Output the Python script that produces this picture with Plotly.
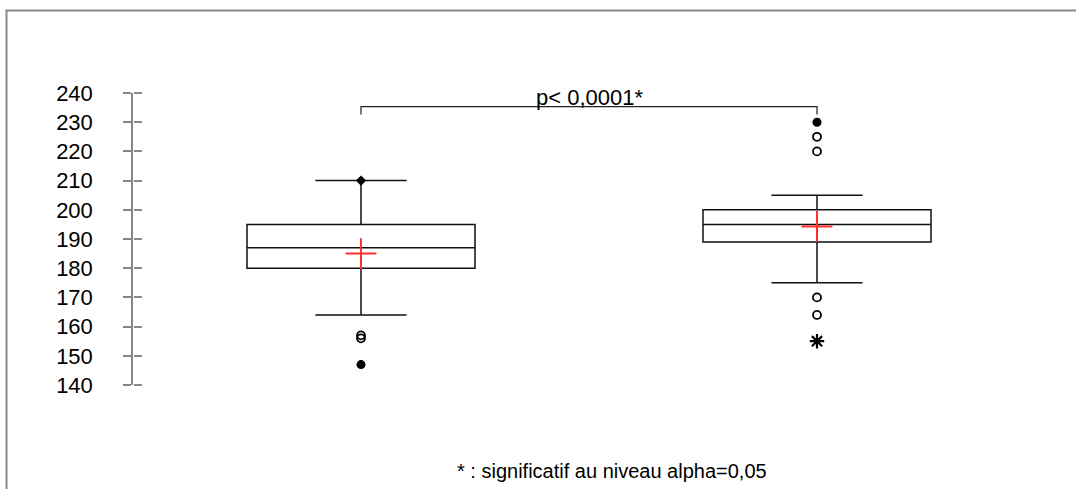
import plotly.graph_objects as go

# ---- data ----
groups_x = [1, 2]
q1 = [180, 189]
median = [187, 195]
q3 = [195, 200]
lower_whisker = [164, 175]
upper_whisker = [210, 205]
means = [185, 194.3]

outlier_open_x = [1, 1, 2, 2, 2, 2]
outlier_open_y = [156, 157, 225, 220, 170, 164]
extreme_filled_x = [1, 2]
extreme_filled_y = [147, 230]
max_diamond_x = [1]
max_diamond_y = [210]
min_star_x = [2]
min_star_y = [155]

bracket_x = [1, 1, 2, 2]
bracket_y = [232.6, 235.3, 235.3, 232.6]
p_text = "p< 0,0001*"
footnote = "* : significatif au niveau alpha=0,05"

y_ticks = [140, 150, 160, 170, 180, 190, 200, 210, 220, 230, 240]

FONT = "Liberation Sans, Arial, sans-serif"
GRAY = "#888888"

fig = go.Figure()

fig.add_trace(go.Box(
    x=groups_x, q1=q1, median=median, q3=q3,
    lowerfence=lower_whisker, upperfence=upper_whisker,
    width=0.5, whiskerwidth=0.4, boxpoints=False,
    fillcolor="white", line=dict(color="#111111", width=1.5),
    hoverinfo="skip",
))

fig.add_trace(go.Scatter(
    x=groups_x, y=means, mode="markers",
    marker=dict(symbol="cross-thin-open", size=22, color="#ff3030",
                line=dict(color="#ff3030", width=2)),
))

fig.add_trace(go.Scatter(
    x=outlier_open_x, y=outlier_open_y, mode="markers",
    marker=dict(symbol="circle-open", size=8, color="black",
                line=dict(color="black", width=1.8)),
))
fig.add_trace(go.Scatter(
    x=extreme_filled_x, y=extreme_filled_y, mode="markers",
    marker=dict(symbol="circle", size=9, color="black"),
))
fig.add_trace(go.Scatter(
    x=max_diamond_x, y=max_diamond_y, mode="markers",
    marker=dict(symbol="diamond", size=8, color="black"),
))
fig.add_trace(go.Scatter(
    x=min_star_x, y=min_star_y, mode="markers",
    marker=dict(symbol="asterisk-open", size=12, color="black",
                line=dict(color="black", width=2.2)),
))
fig.add_trace(go.Scatter(
    x=bracket_x, y=bracket_y, mode="lines",
    line=dict(color="#222222", width=1.2),
))

# secondary y axis (right-side style placed at the left edge) draws the
# right half of the crossing tick marks
fig.add_trace(go.Scatter(
    x=groups_x, y=means, yaxis="y2", mode="markers",
    marker=dict(opacity=0), hoverinfo="skip", showlegend=False,
))

fig.add_annotation(
    x=1.5, y=238.3, xref="x", yref="y", text=p_text, showarrow=False,
    yanchor="middle", font=dict(family=FONT, size=22, color="black"),
)
fig.add_annotation(
    x=0.525, y=-0.295, xref="paper", yref="paper", text=footnote,
    showarrow=False, yanchor="middle",
    font=dict(family=FONT, size=20, color="black"),
)

fig.add_shape(
    type="rect", xref="paper", yref="paper",
    x0=-0.1387, x1=1.2, y0=-0.6, y1=1.2825,
    line=dict(color=GRAY, width=2), fillcolor="rgba(0,0,0,0)", layer="below",
)

fig.update_layout(
    width=1076, height=489,
    margin=dict(l=133, r=31, t=93, b=104, pad=0),
    paper_bgcolor="white", plot_bgcolor="white",
    showlegend=False,
    xaxis=dict(range=[0.5, 2.5], visible=False, fixedrange=True),
    yaxis=dict(
        range=[140, 240], tickvals=y_ticks, showgrid=False, zeroline=False,
        showline=True, linecolor=GRAY, linewidth=1.5,
        ticks="outside", ticklen=8, tickcolor=GRAY, tickwidth=1.5,
        tickfont=dict(family=FONT, size=22, color="black"),
        ticklabelstandoff=26,
    ),
    yaxis2=dict(
        range=[140, 240], tickvals=y_ticks, overlaying="y", side="right",
        anchor="free", position=0, showgrid=False, zeroline=False,
        showline=False, ticks="outside", ticklen=8, tickcolor=GRAY,
        tickwidth=1.5, showticklabels=False,
    ),
)

fig.write_html("out.html")
